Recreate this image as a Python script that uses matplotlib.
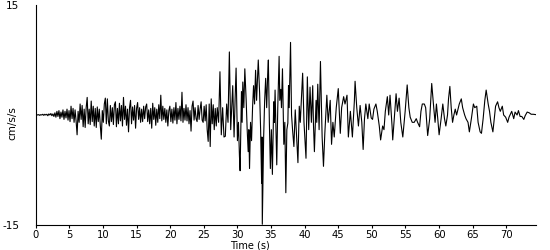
import numpy as np
import matplotlib
matplotlib.use("Agg")
import matplotlib.pyplot as plt

# Early record (0 - 27 s), sampled every 0.15 s
early_dt = 0.15
early_accel = [
    0, 0.05, 0, 0.05, -0.05, 0.05, 0, 0.1, -0.05, 0.1,
    0, 0.1, -0.1, 0.15, 0, 0.2, -0.1, 0.15, -0.2, 0.3,
    -0.3, 0.5, -0.2, 0.6, -0.5, 0.4, -0.3, 0.7, -0.6, 0.5,
    -0.4, 0.8, -0.7, 0.6, -0.9, 1.2, -0.5, 0.9, -1.0, 0.7,
    -0.8, -2.7, 0.5, -1.0, 1.5, -0.6, 1.3, -1.6, 0.8, -1.7,
    1.0, 2.4, -1.2, 0.8, -1.3, 1.9, -0.9, 1.2, -1.5, 0.9,
    -1.7, 1.1, -0.9, 0.8, -1.4, -3.3, 0.6, -1.0, 1.5, 2.3,
    -1.2, 2.2, -0.8, -1.5, 1.3, -0.9, 1.0, -1.3, 1.4, 1.8,
    -1.6, 0.9, -1.2, 1.6, -0.8, 1.3, -1.5, 2.4, -0.6, 1.2,
    -1.4, 0.8, -2.3, 1.0, 2.0, -1.2, 1.1, -0.7, 1.3, -1.8,
    0.9, 1.7, -0.6, 1.0, -1.0, 0.8, -0.9, 1.2, -0.5, 1.1,
    1.5, -0.9, 0.7, -1.2, 0.9, -1.8, 1.6, -0.6, 1.0, -1.4,
    0.8, -1.0, 1.4, -0.5, 2.7, -0.8, 1.2, -0.6, 0.9, -1.0,
    0.7, -1.5, 0.6, 1.2, -0.9, 0.8, -1.1, 1.0, -0.7, 1.7,
    -1.2, 0.9, -0.6, 1.2, -0.8, 3.1, -1.0, 0.9, -0.7, 1.4,
    -0.8, 1.0, -1.2, 0.6, -2.2, 1.2, 1.9, -0.7, 1.0, -0.5,
    -0.9, 1.3, -0.6, 0.8, 1.8, -0.7, -1.0, 1.2, -0.8, 1.4,
    -2.0, -3.6, 1.5, -4.3, 2.2, -1.2, 1.4, -2.0, 0.9, -1.5,
    1.0,
]

# Strong-motion and coda (27.2 - 74.4 s), read peak by peak
late_time = [
    27.2, 27.4, 27.6, 27.8, 28.0, 28.2, 28.4, 28.6, 28.8, 29.0, 29.15, 29.3, 29.5, 29.65, 29.8,
    30.0, 30.15, 30.3, 30.4, 30.6, 30.7, 30.8, 30.95, 31.1, 31.3, 31.45, 31.6, 31.7, 31.8, 31.95,
    32.1, 32.25, 32.4, 32.55, 32.7, 32.85, 33.1, 33.3, 33.45, 33.6, 33.65, 33.7, 33.9, 34.05, 34.2,
    34.35, 34.5, 34.6, 34.75, 34.9, 35.05, 35.2, 35.4, 35.5, 35.6, 35.85, 36.0, 36.2, 36.3, 36.45,
    36.55, 36.7, 36.9, 37.05, 37.2, 37.35, 37.5, 37.6, 37.7, 37.9, 38.05, 38.2, 38.4, 38.6, 38.8,
    39.0, 39.2, 39.35, 39.5, 39.7, 39.9, 40.2, 40.4, 40.6, 40.8, 41.0, 41.2, 41.3, 41.45, 41.7,
    41.8, 41.95, 42.15, 42.35, 42.6, 42.8, 43.0, 43.3, 43.5, 43.8, 44.0, 44.2, 44.4, 44.7, 45.0,
    45.3, 45.5, 45.8, 46.0, 46.3, 46.5, 46.8, 47.1, 47.4, 47.5, 47.75, 48.0, 48.25, 48.5, 48.7,
    48.9, 49.1, 49.4, 49.6, 49.9, 50.1, 50.3, 50.6, 50.8, 51.1, 51.3, 51.6, 51.8, 52.0, 52.3,
    52.5, 52.7, 53.0, 53.1, 53.4, 53.6, 53.8, 54.05, 54.3, 54.6, 54.95, 55.25, 55.5, 55.7, 56.0,
    56.3, 56.6, 56.8, 57.1, 57.3, 57.5, 57.8, 58.0, 58.3, 58.6, 58.9, 59.2, 59.4, 59.6, 59.8,
    60.0, 60.3, 60.55, 60.8, 61.0, 61.25, 61.4, 61.6, 61.8, 62.0, 62.2, 62.4, 62.6, 63.0, 63.3,
    63.5, 63.8, 64.0, 64.3, 64.5, 64.8, 65.1, 65.3, 65.6, 65.8, 66.1, 66.3, 66.55, 66.8, 67.0,
    67.3, 67.5, 67.7, 68.0, 68.2, 68.4, 68.7, 68.9, 69.1, 69.4, 69.6, 69.9, 70.2, 70.4, 70.7,
    70.8, 71.1, 71.3, 71.6, 71.8, 72.05, 72.3, 72.6, 72.8, 73.1, 73.4, 73.7, 74.0, 74.4,
]
late_accel = [
    -1.0, 5.9, -2.7, 1.0, -3.0, -2.9, 1.5, -1.0, 8.6, -2.0, 1.0, 4.0, -3.0, 2.0, 6.4,
    -3.5, -1.0, -5.6, -7.6, 3.2, -1.0, 4.5, 1.0, 6.3, 2.0, -2.0, -5.0, -2.0, -7.3, -1.0,
    -3.5, 1.0, 4.0, 1.5, 6.1, 2.0, 7.5, 3.0, -2.0, -9.3, -3.0, -14.9, -3.0, 2.0, 5.0,
    1.0, 5.5, 7.5, -1.0, -7.3, -2.0, -8.1, 1.8, -1.0, 3.4, -6.8, 1.0, 8.0, 2.0, 3.5,
    1.0, 6.3, -4.0, -1.0, -10.6, -2.0, -1.1, 4.0, 1.0, 9.9, 0.0, -2.0, -4.3, 0.7, -3.0,
    -6.5, 1.2, -1.0, 2.0, 5.7, -1.0, -5.9, 5.2, -2.0, 3.8, -1.0, 4.0, -1.0, -5.0, 2.0,
    -1.0, 4.2, -2.0, 7.3, -3.0, -7.0, -2.5, 2.7, -1.0, 2.0, -4.0, -1.0, -3.0, 1.0, 3.6,
    -2.5, 1.0, 2.5, 1.5, 2.7, -3.0, 0.5, -3.0, 2.0, 4.6, 1.0, -1.5, 1.3, -1.0, -4.7,
    -0.5, 1.5, -0.5, 1.5, -0.4, -0.6, 0.8, 1.5, 0.5, -1.5, -3.4, -1.5, -2.0, 0.5, 2.5,
    0.0, 2.7, -1.5, -3.4, 0.5, 2.9, 0.5, 2.3, -1.0, -3.0, 0.5, 4.1, 1.0, -0.3, -1.0,
    -1.0, -0.5, -1.0, -1.6, 0.5, 1.5, 1.5, 1.0, -2.8, -0.5, 4.3, 1.0, -1.0, 1.5, -0.5,
    -2.7, -0.5, 1.5, -0.5, -1.5, 0.0, 2.2, 3.9, 1.0, -1.0, 0.0, 0.8, 0.0, 1.5, 2.2,
    1.0, 0.0, -0.5, -1.0, -2.3, -0.5, 1.5, 1.0, 1.2, -1.0, -2.3, -2.5, -0.5, 2.0, 3.4,
    1.5, 0.5, -1.0, -2.3, -0.5, 1.2, 1.8, 1.0, 0.5, 1.2, 0.0, -0.3, -1.0, -0.3, 0.3,
    0.5, -0.5, 0.4, 0.0, 0.6, -0.2, -0.2, -0.6, -0.1, 0.4, 0.3, 0.1, 0.1, 0.05,
]

x_ticks = [0, 5, 10, 15, 20, 25, 30, 35, 40, 45, 50, 55, 60, 65, 70]
y_ticks = [-15, 15]

early_time = np.arange(len(early_accel)) * early_dt
time_s = np.concatenate([early_time, np.array(late_time)])
accel = np.concatenate([np.array(early_accel), np.array(late_accel)])

fig = plt.figure(figsize=(5.5, 2.5), dpi=100)
ax = fig.add_axes([0.065, 0.1, 0.91, 0.88])
ax.plot(time_s, accel, color="black", lw=0.8)

ax.set_xlim(0, 74.45)
ax.set_ylim(-15, 15)
ax.set_xticks(x_ticks)
ax.set_xticklabels([str(v) for v in x_ticks])
ax.set_yticks(y_ticks)
ax.set_yticklabels([str(v) for v in y_ticks])
for s in ["top", "right"]:
    ax.spines[s].set_visible(False)
for s in ["left", "bottom"]:
    ax.spines[s].set_linewidth(0.8)
ax.tick_params(axis="x", direction="out", length=2.5, width=0.8, pad=1.0, labelsize=7.2)
ax.tick_params(axis="y", length=0, pad=12, labelsize=7.5)

fig.text(12 / 550, 1 - 123 / 250, "cm/s/s", rotation=90, ha="center", va="center", fontsize=7.5)
fig.text(250 / 550, 0.0, "Time (s)", ha="center", va="bottom", fontsize=7.0)

fig.savefig("out.png", dpi=100)
